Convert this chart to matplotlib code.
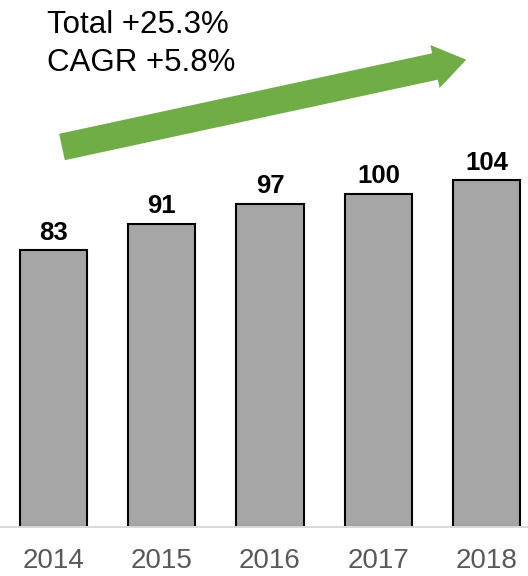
import matplotlib.pyplot as plt
from matplotlib.patches import FancyArrow

years = ["2014", "2015", "2016", "2017", "2018"]
values = [83, 91, 97, 100, 104]
total_text = "Total +25.3%"
cagr_text = "CAGR +5.8%"

plt.rcParams['font.family'] = ['Liberation Sans', 'DejaVu Sans']

W, H = 528, 576
fig = plt.figure(figsize=(W / 100, H / 100), dpi=100)

# main bar axes, baseline at y=527 px, ~3.34 px per unit
ax = fig.add_axes([0, 49 / H, 1, 500 / H])
x = range(len(years))
bars = ax.bar(x, values, width=0.62, color="#a6a6a6", edgecolor="black", linewidth=1.5)
ax.set_xlim(-0.49, 4.38)
ax.set_ylim(0, 150)

for b, v in zip(bars, values):
    ax.annotate(str(v), (b.get_x() + b.get_width() / 2, v), xytext=(0, 4),
                textcoords="offset points", ha="center", va="bottom",
                fontsize=18.5, fontweight="bold")

ax.set_xticks(list(x))
ax.set_xticklabels(years, fontsize=20, color="#595959")
ax.tick_params(axis="x", length=0, pad=15)
ax.set_yticks([])
for s in ["top", "left", "right"]:
    ax.spines[s].set_visible(False)
ax.spines["bottom"].set_color("#d9d9d9")
ax.spines["bottom"].set_linewidth(1.5)

# overlay in pixel coords for the growth arrow and text
ov = fig.add_axes([0, 0, 1, 1], facecolor="none")
ov.set_xlim(0, W)
ov.set_ylim(H, 0)
ov.axis("off")
ov.add_patch(FancyArrow(62, 147, 403 - 30, -87 * (373 / 403), width=27,
                        head_width=44, head_length=32, length_includes_head=False,
                        color="#70ad47", linewidth=0))
ov.text(47, 33, total_text, fontsize=22.5, va="baseline", ha="left")
ov.text(47, 71, cagr_text, fontsize=22.5, va="baseline", ha="left")

fig.savefig("out.png", dpi=100)
